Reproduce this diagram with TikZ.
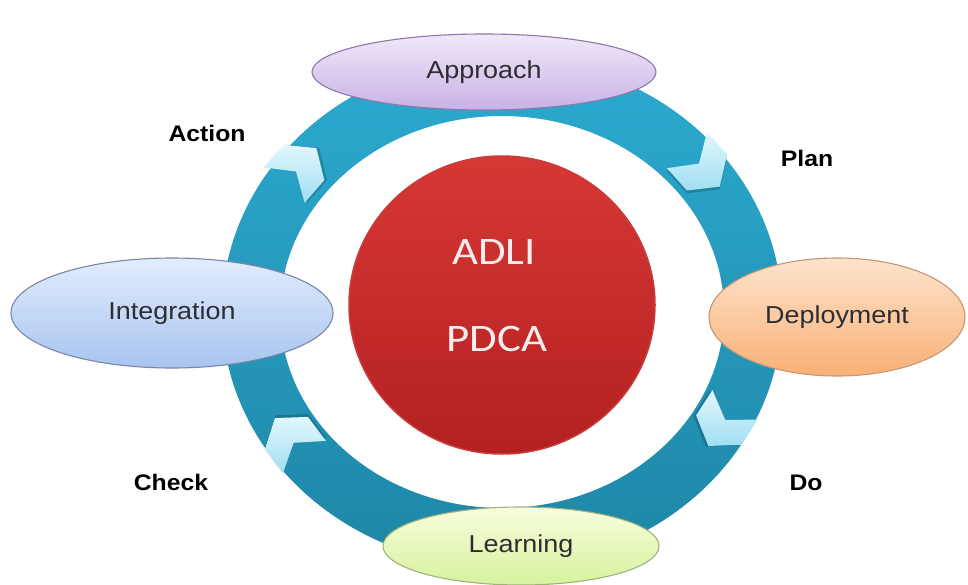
\documentclass[tikz,border=0pt]{standalone}
\usepackage{fontspec}
\setmainfont{Liberation Sans}[FakeStretch=1.1]
\newfontfamily\cfont{Carlito}[FakeStretch=1.15]
\usetikzlibrary{shapes.geometric}
\definecolor{ringtop}{RGB}{44,170,208}
\definecolor{ringbot}{RGB}{30,134,166}
\definecolor{chevA}{RGB}{226,247,253}
\definecolor{chevB}{RGB}{160,222,242}
\definecolor{redtop}{RGB}{214,56,52}
\definecolor{redbot}{RGB}{180,32,34}
\definecolor{txt}{RGB}{45,45,50}
\tikzset{
  nodeell/.style={ellipse, inner sep=0pt, font=\fontsize{24.5}{28}\selectfont, text=txt, line width=1.1pt},
  appr/.style={nodeell, draw={rgb,255:red,140;green,120;blue,170}, top color={rgb,255:red,240;green,232;blue,248}, bottom color={rgb,255:red,200;green,178;blue,230}},
  integ/.style={nodeell, draw={rgb,255:red,120;green,135;blue,165}, top color={rgb,255:red,226;green,236;blue,252}, bottom color={rgb,255:red,168;green,196;blue,240}},
  depl/.style={nodeell, draw={rgb,255:red,200;green,150;blue,115}, top color={rgb,255:red,253;green,228;blue,205}, bottom color={rgb,255:red,249;green,176;blue,118}},
  learn/.style={nodeell, draw={rgb,255:red,160;green,180;blue,120}, top color={rgb,255:red,248;green,253;blue,222}, bottom color={rgb,255:red,214;green,242;blue,158}},
  phase/.style={font=\bfseries\fontsize{22.5}{26}\selectfont, text=black},
  chev/.style={top color=chevA, bottom color=chevB, draw=none},
}
\newcommand{\chevronat}[3]{%
  \begin{scope}[shift={(#1,#2)}, rotate=#3]
    \fill[black, opacity=0.18, shift={(2,2)}] (-24,-27) -- (6,-27) -- (25,0) -- (6,27) -- (-24,27) -- (-6,0) -- cycle;
    \shade[chev] (-24,-27) -- (6,-27) -- (25,0) -- (6,27) -- (-24,27) -- (-6,0) -- cycle;
  \end{scope}}
\begin{document}
\begin{tikzpicture}[x=1pt,y=-1pt]
\useasboundingbox (0,0) rectangle (968,585);
\fill[white] (0,0) rectangle (968,585);
% ring
\shade[even odd rule, top color=ringtop, bottom color=ringbot]
  (502,312) ellipse [x radius=280pt, y radius=255pt]
  (502,312) ellipse [x radius=222pt, y radius=196pt];
% chevrons
\chevronat{300}{167}{49}
\chevronat{703}{168}{-48}
\chevronat{722}{425}{-123}
\chevronat{290}{438}{127}
% central circle
\node[ellipse, minimum width=306pt, minimum height=298pt, inner sep=0pt,
      top color=redtop, bottom color=redbot, draw={rgb,255:red,200;green,60;blue,60}, line width=1.5pt] (core) at (502,305) {};
\node[font=\cfont\fontsize{39}{42}\selectfont, text={rgb,255:red,250;green,236;blue,236}] (adli) at (494,252) {ADLI};
\node[font=\cfont\fontsize{39}{42}\selectfont, text={rgb,255:red,250;green,236;blue,236}] (pdca) at (497,339) {PDCA};
% phase nodes
\node[appr, minimum width=344pt, minimum height=76pt] (approach) at (484,72) {Approach};
\node[integ, minimum width=322pt, minimum height=110pt] (integration) at (172,313) {Integration};
\node[depl, minimum width=256pt, minimum height=118pt] (deployment) at (837,317) {Deployment};
\node[learn, minimum width=276pt, minimum height=78pt] (learning) at (521,546) {Learning};
% labels
\node[phase] (action) at (207,133) {Action};
\node[phase] (plan) at (807,158) {Plan};
\node[phase] (do) at (806,483) {Do};
\node[phase] (check) at (171,482) {Check};
\end{tikzpicture}
\end{document}
